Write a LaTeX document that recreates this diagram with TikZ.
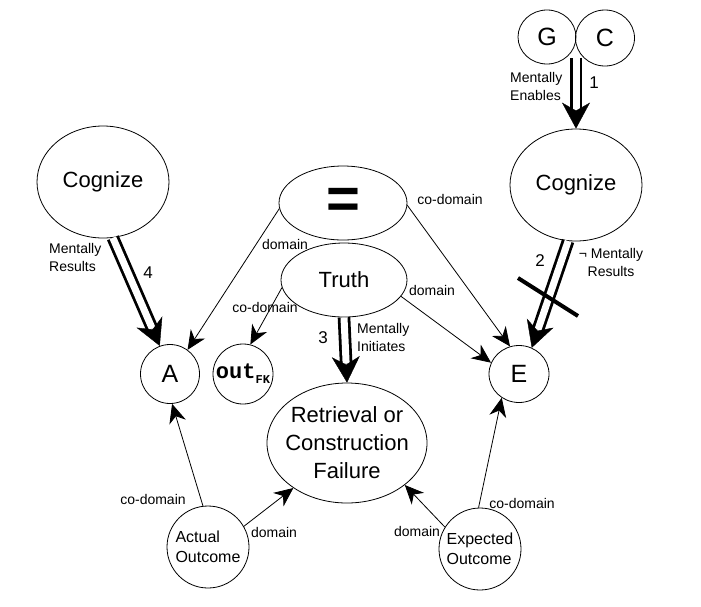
\documentclass[tikz,border=0pt]{standalone}
\usepackage{fontspec}
\setmainfont{Liberation Sans}
\setmonofont{Liberation Mono}
\usetikzlibrary{arrows.meta}
\usetikzlibrary{shapes.geometric}

\newcommand{\nodefont}{\fontsize{22}{28}\selectfont}
\newcommand{\letterfont}{\fontsize{25}{28}\selectfont}
\newcommand{\eqfont}{\fontsize{58}{58}\selectfont\bfseries}
\newcommand{\labfont}{\fontsize{14}{18}\selectfont}
\newcommand{\midfont}{\fontsize{16}{20}\selectfont}
\newcommand{\numfont}{\fontsize{17}{20}\selectfont}

\begin{document}
\begin{tikzpicture}[x=1pt,y=-1pt]
  \tikzset{concept/.style = {shape=ellipse,draw,inner sep=-10pt,line width=0.8pt,font=\nodefont}}
  \tikzset{edge/.style = {-{Stealth[length=19pt,width=17pt,inset=6pt]},line width=0.8pt}}
  \tikzset{causal/.style = {double,double distance=7pt,line width=2.8pt,shorten >=19pt}}
  \tikzset{causaltip/.style = {-{Stealth[length=26pt,width=28pt,inset=8pt,black]},draw=white,line width=0.4pt}}
  \tikzset{lbl/.style = {font=\labfont,inner sep=0pt}}
  \tikzset{num/.style = {font=\numfont,inner sep=0pt}}

  \useasboundingbox (0,0) rectangle (701,606);

	\node[concept,minimum width=58,minimum height=54,font=\letterfont] (G) at (547,37) {G};
	\node[concept,minimum width=59,minimum height=56,font=\letterfont] (C) at (605,38) {C};
	\node[concept,minimum width=132,minimum height=112] (CogL) at (103,182) {Cognize};
	\node[concept,minimum width=132,minimum height=112] (CogR) at (576,185) {Cognize};
	\node[concept,minimum width=128,minimum height=74,font=\eqfont] (Eq) at (343,203) {=};
	\node[concept,minimum width=126,minimum height=74] (Truth) at (344,280) {Truth};
	\node[concept,minimum size=59,font=\letterfont] (A) at (170,374) {A};
	\node[concept,minimum size=60] (Out) at (243,374) {{\ttfamily\bfseries\fontsize{22}{22}\selectfont out}{\ttfamily\bfseries\fontsize{12}{12}\selectfont\raisebox{-5pt}{FK}}};
	\node[concept,minimum width=60,minimum height=57,font=\letterfont] (E) at (519,374) {E};
	\node[concept,minimum width=160,minimum height=120,align=center] (Fail) at (347,443) {Retrieval or\\Construction\\Failure};
	\node[concept,minimum size=82,align=left,font=\midfont] (Actual) at (208,547) {Actual\\Outcome};
	\node[concept,minimum size=82,align=left,font=\midfont] (Expected) at (480,549) {Expected\\Outcome};

	\coordinate (gc) at (576,58);

    \foreach \from/\to in {gc/CogR.north,Truth.south/Fail.north,CogL.-80/A.110,CogR.-98/E.64}
    {
    \draw[causal] (\from) -- (\to);
    \draw[causaltip] (\from) -- (\to);
    }

    \foreach \from/\to in {Eq.185/A.54,Eq.-2/E.108,Truth.187/Out.76,Truth.-16/E.158,Actual.97/A.-86,Actual.30/Fail.220,Expected.148/Fail.-36,Expected.92/E.-126}
    \draw[edge] (\from) -- (\to);

    % negated link
    \draw[line width=4pt] (518,278) -- (578,316);

	\node[lbl] (lEqA) at (285,244) {domain};
	\node[lbl] (lEqE) at (450,199) {co-domain};
	\node[lbl] (lTrOut) at (265,307) {co-domain};
	\node[lbl] (lTrE) at (432,290) {domain};
	\node[lbl] (lAcA) at (153,499) {co-domain};
	\node[lbl] (lAcF) at (274,532) {domain};
	\node[lbl] (lExF) at (417,531) {domain};
	\node[lbl] (lExE) at (522,503) {co-domain};
	\node[lbl,align=left,anchor=west] (lEnab) at (510,86) {Mentally\\Enables};
	\node[lbl,align=left,anchor=west] (lInit) at (357,337) {Mentally\\Initiates};
	\node[lbl,align=left,anchor=west] (lResL) at (49,257) {Mentally\\Results};
	\node[lbl,align=center] (lResR) at (611,262) {¬ Mentally\\Results};
	\node[num] (n1) at (594,83) {1};
	\node[num] (n2) at (540,261) {2};
	\node[num] (n3) at (323,338) {3};
	\node[num] (n4) at (148,273) {4};

\end{tikzpicture}
\end{document}
